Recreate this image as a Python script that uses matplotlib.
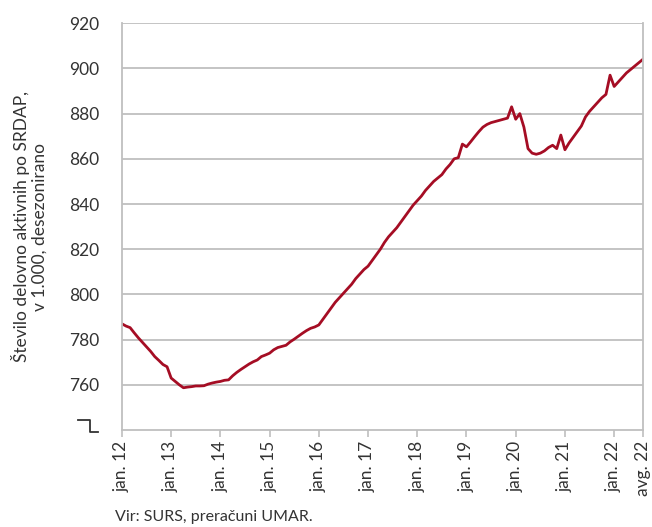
import matplotlib
matplotlib.use("Agg")
import matplotlib.pyplot as plt
from matplotlib.lines import Line2D

# monthly values, jan 2012 .. avg 2022 (in 1.000)
y2012 = [787, 786, 785.3, 783, 780.8, 778.8, 776.8, 774.8, 772.5, 770.8, 769, 768]
y2013 = [763, 761.5, 760, 758.7, 759, 759.2, 759.5, 759.5, 759.6, 760.3, 760.8, 761.2]
y2014 = [761.5, 762, 762.2, 764, 765.5, 766.8, 768, 769.2, 770.2, 771, 772.5, 773.2]
y2015 = [774, 775.5, 776.5, 777, 777.5, 779, 780.2, 781.5, 782.8, 784, 785, 785.6]
y2016 = [786.5, 789, 791.5, 794, 796.5, 798.5, 800.5, 802.5, 804.5, 807, 809, 811]
y2017 = [812.5, 815, 817.5, 820, 823, 825.5, 827.5, 829.5, 832, 834.5, 837, 839.5]
y2018 = [841.5, 843.5, 846, 848, 850, 851.5, 853, 855.5, 857.5, 860, 860.5, 866.5]
y2019 = [865.3, 867.5, 869.8, 872, 874, 875.2, 876, 876.5, 877, 877.5, 878, 883]
y2020 = [877.5, 880, 874, 864.5, 862.5, 862, 862.5, 863.5, 865, 866, 864.5, 870.5]
y2021 = [864, 867, 869.5, 872, 874.5, 878.5, 881, 883, 885, 887, 888.5, 897]
y2022 = [892, 894, 896, 898, 899.5, 901, 902.5, 904]

values = y2012 + y2013 + y2014 + y2015 + y2016 + y2017 + y2018 + y2019 + y2020 + y2021 + y2022
months = list(range(len(values)))

tick_pos = [0, 12, 24, 36, 48, 60, 72, 84, 96, 108, 120, 127]
tick_labels = ["jan. 12", "jan. 13", "jan. 14", "jan. 15", "jan. 16", "jan. 17",
               "jan. 18", "jan. 19", "jan. 20", "jan. 21", "jan. 22", "avg. 22"]
y_ticks = [760, 780, 800, 820, 840, 860, 880, 900, 920]

plt.rcParams['font.family'] = ['Lato', 'DejaVu Sans']
grey = "#BFBFBF"

fig = plt.figure(figsize=(6.52, 5.27), dpi=100)
ax = fig.add_axes([0.187, 0.184, 0.799, 0.772])

ax.plot(months, values, color="#A50D24", linewidth=2.0, solid_joinstyle="round")

ax.set_xlim(0, len(values) - 1)
ax.set_ylim(740, 920)
ax.set_yticks(y_ticks)
ax.set_yticklabels([str(v) for v in y_ticks], fontsize=12.5, color="#333333")
ax.set_xticks(tick_pos)
ax.set_xticklabels(tick_labels, rotation=90, fontsize=12.5, color="#333333")
ax.tick_params(axis="y", length=0, pad=16)
ax.tick_params(axis="x", length=5, width=1.2, color=grey, pad=3)
# last label sits a bit left of its tick, as in the source
ax.get_xticklabels()[-1].set_x(126.0)
ax.grid(axis="y", color=grey, linewidth=1.3)
ax.set_axisbelow(True)
for side in ["left", "right", "top", "bottom"]:
    ax.spines[side].set_color(grey)
    ax.spines[side].set_linewidth(1.3)
ax.spines["top"].set_visible(False)

ax.set_ylabel("Število delovno aktivnih po SRDAP,\nv 1.000, desezonirano",
              fontsize=12.5, color="#333333", labelpad=16, linespacing=1.1)

# axis break mark in place of 740
brk = [(0.120, 0.203), (0.138, 0.203), (0.138, 0.181), (0.150, 0.181)]
fig.add_artist(Line2D([p[0] for p in brk], [p[1] for p in brk],
                      color="#333333", linewidth=1.3))

fig.text(0.176, 0.012, "Vir: SURS, preračuni UMAR.", fontsize=11.5, color="#333333")

fig.savefig("out.png", dpi=100)
